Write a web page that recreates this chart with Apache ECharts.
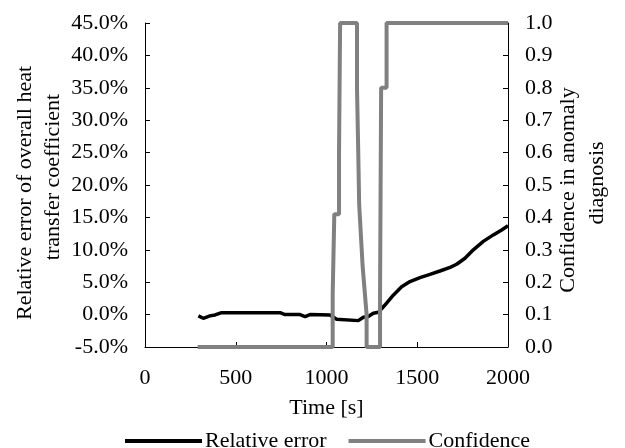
<!DOCTYPE html>
<html>
<head>
<meta charset="utf-8">
<script src="https://cdn.jsdelivr.net/npm/echarts@6/dist/echarts.min.js"></script>
<style>
html,body{margin:0;padding:0;background:#fff;}
#chart{width:625px;height:448px;}
</style>
</head>
<body>
<div id="chart"></div>
<script>
// Relative error (%) vs time (s)
const errTime  = [294, 321, 358, 386, 422, 744, 771, 854, 882, 909, 1019, 1056, 1065, 1175, 1203, 1230, 1258, 1286, 1322, 1368, 1414, 1460, 1515, 1570, 1625, 1681, 1717, 1763, 1809, 1864, 1919, 1965, 2000];
const errValue = [-0.2, -0.57, -0.2, -0.05, 0.3, 0.3, 0.0, 0.0, -0.3, 0.0, -0.05, -0.72, -0.93, -0.93, -0.4, -0.3, 0.2, 0.35, 1.48, 3.0, 4.3, 5.1, 5.7, 6.2, 6.73, 7.3, 7.77, 8.7, 10.0, 11.3, 12.3, 13.06, 13.7];

// Confidence in anomaly diagnosis vs time (s)
const confTime  = [290, 1034, 1034, 1043, 1043, 1069, 1069, 1072, 1072, 1075, 1075, 1168, 1168, 1175, 1175, 1180, 1199, 1221, 1221, 1295, 1295, 1301, 1301, 1331, 1331, 2000];
const confValue = [0, 0, 0.16, 0.16, 0.41, 0.41, 0.6, 0.6, 0.8, 0.8, 1, 1, 0.8, 0.8, 0.6, 0.44, 0.25, 0.1, 0, 0, 0.16, 0.16, 0.8, 0.8, 1, 1];

const seriesNames = ['Relative error', 'Confidence'];
const xTicks = {min: 0, max: 2000, interval: 500};
const leftTicks = {min: -5, max: 45, interval: 5};
const rightTicks = {min: 0, max: 1, interval: 0.1};

const FONT = 'Liberation Serif';
const FS = 22;
const chart = echarts.init(document.getElementById('chart'), null, {renderer: 'canvas'});

const axisCommon = {
  axisLine: {show: true, onZero: false, lineStyle: {color: '#000', width: 1}},
  axisTick: {show: true, inside: true, length: 5, lineStyle: {color: '#000'}},
  splitLine: {show: false}
};

const nameFont = FS + 'px "' + FONT + '"';

chart.setOption({
  animation: false,
  backgroundColor: '#fff',
  textStyle: {fontFamily: FONT},
  grid: {left: 145, right: 117, top: 23, bottom: 101, containLabel: false},
  legend: {
    data: seriesNames,
    left: 120,
    top: 425,
    icon: 'rect',
    itemWidth: 77,
    itemHeight: 4,
    itemGap: 22,
    textStyle: {color: '#000', fontFamily: FONT, fontSize: FS, padding: [0,0,0,-2]}
  },
  xAxis: Object.assign({}, axisCommon, {
    type: 'value', min: xTicks.min, max: xTicks.max, interval: xTicks.interval,
    name: 'Time [s]', nameLocation: 'middle', nameGap: 50,
    nameTextStyle: {color: '#000', fontFamily: FONT, fontSize: FS},
    axisLabel: {color: '#000', fontFamily: FONT, fontSize: FS, margin: 20,
      formatter: v => String(v)}
  }),
  yAxis: [
    Object.assign({}, axisCommon, {
      type: 'value', position: 'left', min: leftTicks.min, max: leftTicks.max, interval: leftTicks.interval,
      axisLabel: {color: '#000', fontFamily: FONT, fontSize: FS, margin: 17,
        formatter: v => v.toFixed(1) + '%'}
    }),
    Object.assign({}, axisCommon, {
      type: 'value', position: 'right', min: rightTicks.min, max: rightTicks.max, interval: rightTicks.interval,
      axisLabel: {color: '#000', fontFamily: FONT, fontSize: FS, margin: 17,
        formatter: v => v.toFixed(1)}
    })
  ],
  graphic: [
    {type: 'text', x: 25, y: 193, rotation: Math.PI/2,
     style: {text: 'Relative error of overall heat', fill: '#000', font: nameFont, textAlign: 'center', textVerticalAlign: 'middle'}},
    {type: 'text', x: 53, y: 177, rotation: Math.PI/2,
     style: {text: 'transfer coefficient', fill: '#000', font: nameFont, textAlign: 'center', textVerticalAlign: 'middle'}},
    {type: 'text', x: 568, y: 190, rotation: Math.PI/2,
     style: {text: 'Confidence in anomaly', fill: '#000', font: nameFont, textAlign: 'center', textVerticalAlign: 'middle'}},
    {type: 'text', x: 597, y: 183, rotation: Math.PI/2,
     style: {text: 'diagnosis', fill: '#000', font: nameFont, textAlign: 'center', textVerticalAlign: 'middle'}}
  ],
  series: [
    {
      name: seriesNames[0], type: 'line', yAxisIndex: 0, showSymbol: false, symbol: 'none',
      smooth: false, z: 2,
      lineStyle: {color: '#000', width: 3.5},
      itemStyle: {color: '#000'},
      data: errTime.map((t, i) => [t, errValue[i]])
    },
    {
      name: seriesNames[1], type: 'line', yAxisIndex: 1, showSymbol: false, symbol: 'none',
      smooth: false, z: 3,
      lineStyle: {color: '#808080', width: 4},
      itemStyle: {color: '#808080'},
      data: confTime.map((t, i) => [t, confValue[i]])
    }
  ]
});
</script>
</body>
</html>
